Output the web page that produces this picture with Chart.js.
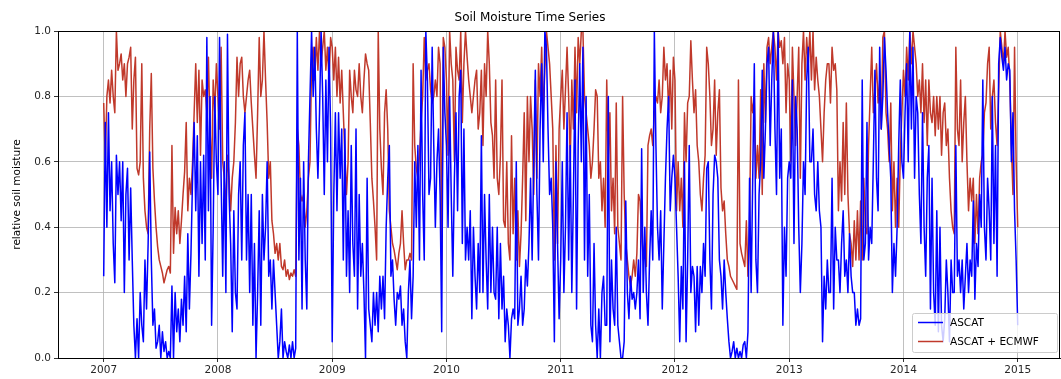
<!DOCTYPE html>
<html>
<head>
<meta charset="utf-8">
<script src="https://cdn.jsdelivr.net/npm/chart.js@4.4.1/dist/chart.umd.min.js"></script>
<style>
  html, body { margin: 0; padding: 0; background: #fff; }
  #wrap { width: 1061px; height: 379px; }
</style>
</head>
<body>
<div id="wrap"><canvas id="myChart"></canvas></div>
<script>
// setup - values, 72 per year (about every 5 days)
const years = [2007, 2008, 2009, 2010, 2011, 2012, 2013, 2014];
const yearTicks = [2007, 2008, 2009, 2010, 2011, 2012, 2013, 2014, 2015];
const perYear = 72;

const ascat2007 = [
  0.25,0.72,0.40,0.75,0.45,0.60,0.35,0.23,0.62,0.50,0.60,0.42,
  0.60,0.20,0.50,0.58,0.30,0.52,0.30,0.10,0.0,0.12,0.0,0.20,
  0.10,0.05,0.30,0.15,0.35,0.63,0.30,0.10,0.15,0.03,0.05,0.10,
  0.0,0.08,0.02,0.05,0.0,0.02,0.0,0.22,0.0,0.20,0.08,0.15,
  0.05,0.18,0.10,0.25,0.08,0.38,0.15,0.32,0.55,0.72,0.45,0.68,
  0.25,0.60,0.35,0.62,0.30,0.98,0.45,0.80,0.10,0.40,0.80,0.60];
const ascat2008 = [
  0.50,0.98,0.55,0.25,0.60,0.20,0.99,0.50,0.35,0.08,0.45,0.20,
  0.15,0.50,0.60,0.30,0.65,0.75,0.30,0.50,0.20,0.50,0.10,0.35,
  0.0,0.20,0.45,0.10,0.50,0.30,0.40,0.60,0.25,0.30,0.15,0.30,
  0.20,0.10,0.0,0.05,0.15,0.0,0.05,0.02,0.0,0.04,0.0,0.05,
  0.0,0.03,1.0,0.30,0.55,0.15,0.60,0.30,0.15,0.60,0.80,1.0,
  0.80,0.95,0.70,0.55,0.75,1.0,0.80,0.50,0.85,0.60,0.95,0.70];
const ascat2009 = [
  0.05,0.50,0.75,0.45,0.75,0.55,0.70,0.30,0.70,0.25,0.45,0.20,
  0.65,0.35,0.25,0.70,0.15,0.50,0.25,0.35,0.20,0.0,0.55,0.15,
  0.10,0.05,0.20,0.10,0.20,0.08,0.25,0.15,0.25,0.12,0.40,0.55,
  0.65,0.25,0.30,0.18,0.10,0.20,0.18,0.22,0.10,0.15,0.05,0.0,
  0.20,0.30,0.12,0.25,0.60,0.40,0.65,0.30,0.88,0.50,0.30,1.0,
  0.85,0.50,0.55,0.95,0.65,0.40,0.60,0.70,0.50,0.08,0.95,0.75];
const ascat2010 = [
  0.65,0.40,0.80,0.50,0.25,0.55,0.75,0.45,0.80,0.88,0.35,0.70,
  0.30,0.40,0.30,0.45,0.12,0.40,0.25,0.15,0.35,0.20,0.68,0.20,
  0.50,0.30,0.15,0.50,0.20,0.40,0.20,0.18,0.40,0.12,0.35,0.15,
  0.25,0.05,0.15,0.10,0.0,0.12,0.15,0.12,0.60,0.10,0.15,0.25,
  0.10,0.15,0.30,0.22,0.35,0.55,0.30,0.60,0.88,0.50,0.30,0.70,
  0.90,0.60,1.0,0.95,0.70,0.50,0.55,0.40,0.05,0.60,0.35,0.12];
const ascat2011 = [
  0.30,0.60,0.20,0.40,0.75,0.30,0.65,0.20,0.50,0.85,0.15,0.65,
  0.90,0.60,0.95,0.30,0.80,0.25,0.50,0.10,0.05,0.35,0.10,0.0,
  0.15,0.0,0.20,0.25,0.10,0.10,0.80,0.05,0.30,0.15,0.10,0.40,
  0.10,0.05,0.0,0.0,0.05,0.48,0.20,0.12,0.25,0.18,0.20,0.15,
  0.20,0.30,0.12,0.64,0.20,0.40,0.20,0.10,0.30,0.45,0.30,1.0,
  0.65,0.40,0.30,0.45,0.15,0.35,0.55,0.70,0.80,0.45,0.55,0.62];
const ascat2012 = [
  0.55,0.40,0.25,0.05,0.28,0.15,0.60,0.05,0.30,0.65,0.20,0.28,
  0.25,0.08,0.28,0.10,0.28,0.20,0.35,0.25,0.58,0.60,0.30,0.15,
  0.50,0.62,0.60,0.55,0.30,0.25,0.15,0.30,0.20,0.12,0.05,0.0,
  0.02,0.05,0.0,0.03,0.0,0.02,0.0,0.04,0.05,0.0,0.08,0.55,
  0.20,0.55,0.90,0.30,0.20,0.50,0.60,0.88,0.55,0.70,0.90,0.95,
  0.65,0.85,1.0,0.70,0.50,1.0,0.55,0.70,0.10,0.40,0.25,0.55];
const ascat2013 = [
  0.60,0.55,0.85,0.35,0.80,0.70,0.40,0.20,0.35,0.60,0.50,0.85,
  0.95,0.60,0.60,0.70,0.50,0.45,0.60,0.45,0.40,0.05,0.25,0.15,
  0.30,0.20,0.20,0.55,0.15,0.40,0.30,0.30,0.20,0.35,0.45,0.25,
  0.30,0.20,0.38,0.25,0.20,0.20,0.10,0.15,0.10,0.12,0.85,0.30,
  0.35,0.72,0.30,0.40,0.35,0.60,0.88,0.55,0.45,0.95,0.70,0.80,
  0.98,0.88,0.75,0.65,0.55,0.20,0.35,0.25,0.40,0.65,0.85,0.60];
const ascat2014 = [
  0.55,0.75,0.90,0.60,1.0,0.70,0.95,0.55,0.80,0.75,0.50,0.35,
  0.75,0.40,0.25,0.55,0.65,0.15,0.55,0.20,0.10,0.45,0.08,0.40,
  0.10,0.05,0.12,0.30,0.20,0.05,0.30,0.20,0.20,0.65,0.25,0.30,
  0.20,0.30,0.15,0.25,0.35,0.20,0.30,0.25,0.48,0.18,0.35,0.28,
  0.50,0.40,0.85,0.40,0.30,0.55,0.45,0.30,0.80,0.35,0.65,0.25,
  0.90,0.98,0.92,0.88,0.95,0.85,0.90,0.88,0.60,0.75,0.45,0.30,
  0.10];

const ecmwf2007 = [
  0.78,0.60,0.80,0.85,0.78,0.88,0.80,0.75,1.0,0.88,0.90,0.93,
  0.85,0.90,0.80,0.90,0.92,0.95,0.70,0.85,0.92,0.58,0.56,0.60,
  0.90,0.55,0.45,0.40,0.38,0.70,0.87,0.58,0.48,0.40,0.34,0.30,
  0.28,0.26,0.23,0.25,0.27,0.28,0.26,0.65,0.32,0.46,0.38,0.45,
  0.35,0.42,0.50,0.57,0.72,0.45,0.55,0.50,0.60,0.75,0.90,0.72,
  0.88,0.62,0.85,0.80,0.82,0.75,0.92,0.70,0.55,0.85,0.75,0.90];
const ecmwf2008 = [
  0.80,0.70,0.95,0.60,0.55,0.45,0.62,0.55,0.45,0.55,0.60,0.72,
  0.92,0.80,0.90,0.92,0.80,0.75,0.80,0.85,0.88,0.78,0.70,0.62,
  0.55,0.75,0.98,0.80,0.85,1.0,0.85,0.72,0.55,0.60,0.42,0.38,
  0.32,0.35,0.30,0.35,0.28,0.27,0.30,0.25,0.27,0.24,0.26,0.25,
  0.27,0.25,0.70,0.65,0.50,0.48,0.50,0.40,0.45,0.55,0.60,0.90,
  0.95,0.85,0.98,0.88,1.0,0.90,0.95,1.0,0.88,0.95,0.85,0.98];
const ecmwf2009 = [
  0.95,0.85,0.95,0.80,0.92,0.78,0.88,0.75,0.62,0.50,0.60,0.88,
  0.80,0.75,0.88,0.82,0.80,0.90,0.80,0.75,0.85,0.93,0.90,0.88,
  0.72,0.55,0.48,0.40,0.30,1.0,0.70,0.58,0.50,0.75,0.82,0.70,
  0.45,0.40,0.35,0.33,0.30,0.27,0.32,0.35,0.45,0.35,0.27,0.30,
  0.30,0.32,0.30,0.90,0.65,0.58,0.55,0.62,0.72,0.80,0.98,0.85,
  0.88,0.90,0.82,0.78,0.80,0.85,0.80,0.95,0.90,0.30,0.98,0.95];
const ecmwf2010 = [
  0.85,0.62,1.0,0.90,0.85,0.60,0.95,0.88,0.85,1.0,0.72,0.90,
  1.0,0.92,0.85,0.80,0.75,0.80,0.85,0.88,0.70,0.75,0.88,0.65,
  0.90,0.80,1.0,0.90,0.72,0.68,0.55,0.85,0.55,0.50,0.62,0.85,
  0.42,0.40,0.60,0.35,0.30,0.68,0.38,0.55,0.30,0.45,0.28,0.38,
  0.55,0.75,0.42,0.80,0.60,0.80,0.70,0.50,0.85,0.55,0.90,0.80,
  0.95,0.75,0.88,1.0,0.95,0.90,0.80,0.70,0.30,0.65,0.35,0.70];
const ecmwf2011 = [
  0.80,0.88,0.70,0.82,0.95,0.80,0.60,0.85,0.70,0.95,0.75,0.98,
  0.90,1.0,1.0,0.80,0.75,0.70,0.65,0.55,0.60,0.70,0.82,0.80,
  0.55,0.60,0.45,0.55,0.40,0.85,0.60,0.75,0.45,0.55,0.38,0.78,
  0.40,0.35,0.30,0.80,0.50,0.35,0.30,0.25,0.22,0.25,0.30,0.25,
  0.32,0.50,0.48,0.38,0.30,0.35,0.28,0.65,0.68,0.70,0.65,0.75,
  0.80,0.78,0.85,0.75,0.80,0.95,0.85,0.90,0.75,0.88,0.70,0.92];
const ecmwf2012 = [
  0.85,0.45,0.60,0.45,0.55,0.40,0.75,0.60,0.78,0.80,0.97,0.85,
  0.75,0.82,0.65,0.60,0.50,0.45,0.55,0.62,0.95,0.90,0.80,0.65,
  0.70,0.85,0.62,0.75,0.82,0.52,0.45,0.48,0.38,0.30,0.28,0.25,
  0.24,0.23,0.22,0.21,0.85,0.35,0.32,0.30,0.28,0.42,0.25,0.40,
  0.80,0.75,0.80,0.55,0.65,0.55,0.82,0.50,0.90,0.72,0.95,0.98,
  0.90,0.95,1.0,0.95,0.85,1.0,0.95,0.97,0.90,0.98,0.75,0.90];
const ecmwf2013 = [
  0.85,0.60,0.95,0.80,0.65,0.80,0.95,0.55,0.90,1.0,0.85,0.98,
  0.90,1.0,0.85,1.0,0.82,0.92,0.85,0.80,0.70,0.60,0.75,0.85,
  0.90,0.90,0.78,0.95,0.88,0.90,0.82,0.45,0.60,0.48,0.72,0.50,
  0.78,0.50,0.38,0.35,0.28,0.42,0.30,0.45,0.30,0.48,0.30,0.55,
  0.40,0.38,0.65,0.80,0.95,0.75,0.82,0.90,0.78,0.85,0.70,0.98,
  1.0,0.75,0.70,0.60,0.78,0.45,0.60,0.40,0.55,0.40,0.62,0.75];
const ecmwf2014 = [
  0.88,0.80,0.95,0.85,1.0,0.90,1.0,0.95,0.90,0.80,0.85,0.75,
  0.90,0.72,0.85,0.65,0.85,0.75,0.72,0.80,0.68,0.80,0.70,0.80,
  0.62,0.75,0.78,0.65,0.70,0.55,0.45,0.40,0.38,0.95,0.70,0.65,
  0.85,0.60,0.72,0.80,0.60,0.45,0.55,0.48,0.55,0.35,0.50,0.38,
  0.55,0.60,0.62,0.75,0.78,0.90,0.95,0.70,0.80,0.85,0.72,0.65,
  0.82,1.0,0.95,0.90,1.0,0.92,0.95,0.85,0.65,0.50,0.95,0.60,
  0.40];

const ascatYears = [ascat2007, ascat2008, ascat2009, ascat2010, ascat2011, ascat2012, ascat2013, ascat2014];
const ecmwfYears = [ecmwf2007, ecmwf2008, ecmwf2009, ecmwf2010, ecmwf2011, ecmwf2012, ecmwf2013, ecmwf2014];

// turn the yearly lists into {x: decimal year, y}
function toPoints(lists) {
  const pts = [];
  lists.forEach((vals, k) => {
    vals.forEach((v, i) => pts.push({ x: years[k] + i / perYear, y: v }));
  });
  return pts;
}

const font = { family: 'DejaVu Sans', size: 10.5 };

// frame round the plot + legend in the lower right corner (like matplotlib)
const framePlugin = {
  id: 'frame',
  afterDraw(chart) {
    const ctx = chart.ctx;
    const a = chart.chartArea;
    ctx.save();
    ctx.strokeStyle = '#000';
    ctx.lineWidth = 1;
    ctx.strokeRect(Math.round(a.left) + 0.5, Math.round(a.top) + 0.5,
      Math.round(a.right - a.left) - 1, Math.round(a.bottom - a.top));

    // legend box
    const bx = 912.5, by = 313.5, bw = 145, bh = 39;
    ctx.fillStyle = 'rgba(255,255,255,0.8)';
    ctx.strokeStyle = '#cccccc';
    ctx.beginPath();
    ctx.roundRect(bx, by, bw, bh, 2);
    ctx.fill();
    ctx.stroke();
    ctx.font = font.size + 'px ' + font.family;
    ctx.textBaseline = 'middle';
    chart.data.datasets.forEach((ds, i) => {
      const ly = 322.5 + i * 19;
      ctx.strokeStyle = ds.borderColor;
      ctx.lineWidth = 1.5;
      ctx.beginPath();
      ctx.moveTo(918, ly);
      ctx.lineTo(943, ly);
      ctx.stroke();
      ctx.fillStyle = '#000';
      ctx.fillText(ds.label, 950, ly + 0.5);
    });
    ctx.restore();
  }
};

const data = {
  datasets: [{
    label: 'ASCAT',
    data: toPoints(ascatYears),
    borderColor: '#0000ff',
    borderWidth: 1.5,
    pointRadius: 0,
    tension: 0,
    borderJoinStyle: 'round'
  },
  {
    label: 'ASCAT + ECMWF',
    data: toPoints(ecmwfYears),
    borderColor: '#c0392b',
    borderWidth: 1.5,
    pointRadius: 0,
    tension: 0,
    borderJoinStyle: 'round'
  }]
};

// config
const config = {
  type: 'line',
  data,
  plugins: [framePlugin],
  options: {
    responsive: true,
    maintainAspectRatio: false,
    animation: false,
    devicePixelRatio: 1,
    layout: { padding: { top: 0, right: 1, bottom: 0, left: 0 } },
    plugins: {
      legend: { display: false },
      tooltip: { enabled: false },
      title: {
        display: true,
        text: 'Soil Moisture Time Series',
        color: '#000',
        font: { family: 'DejaVu Sans', size: 12, weight: 'normal' },
        padding: { top: 11, bottom: 5.6 }
      }
    },
    scales: {
      x: {
        type: 'linear',
        min: 2006.6,
        max: 2015.37,
        afterBuildTicks: s => { s.ticks = yearTicks.map(v => ({ value: v })); },
        afterFit: s => { s.height = 21; },
        ticks: { font, color: '#262626', padding: 2, maxRotation: 0, callback: v => String(v) },
        grid: { color: '#b0b0b0', lineWidth: 0.8, tickColor: '#000', tickLength: 4 },
        border: { color: '#000', width: 1 }
      },
      y: {
        min: 0,
        max: 1,
        afterFit: s => { s.width = 58; },
        ticks: { stepSize: 0.2, font, color: '#262626', padding: 3, callback: v => v.toFixed(1) },
        grid: { color: '#b0b0b0', lineWidth: 0.8, tickColor: '#000', tickLength: 4 },
        border: { color: '#000', width: 1 },
        title: {
          display: true,
          text: 'relative soil moisture',
          color: '#000',
          font,
          padding: { top: 11, bottom: 0 }
        }
      }
    }
  }
};

// render init block
const myChart = new Chart(document.getElementById('myChart'), config);
</script>
</body>
</html>
